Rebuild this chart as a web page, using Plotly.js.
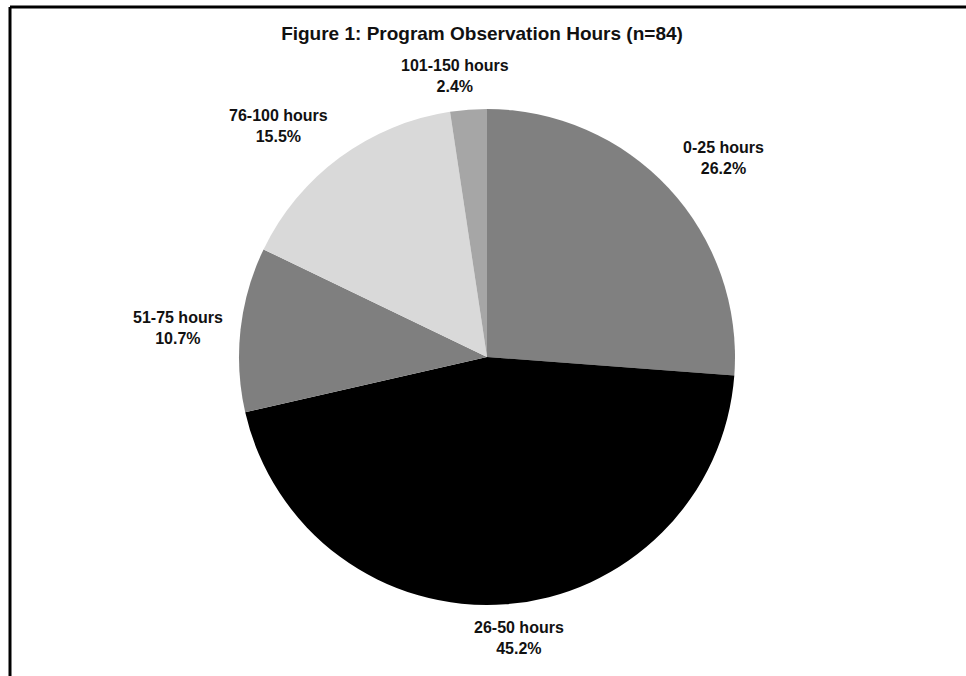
<!DOCTYPE html>
<html>
<head>
<meta charset="utf-8">
<script src="https://cdn.plot.ly/plotly-3.0.1.min.js"></script>
<style>
  html, body { margin: 0; padding: 0; background: #ffffff; }
  #chart { width: 966px; height: 676px; }
</style>
</head>
<body>
<div id="chart"></div>
<script>
const categories = ["0-25 hours", "26-50 hours", "51-75 hours", "76-100 hours", "101-150 hours"];
const counts = [22, 38, 9, 13, 2];
const sliceColors = ["#808080", "#000000", "#7f7f7f", "#d9d9d9", "#a6a6a6"];
const chartTitle = "Figure 1: Program Observation Hours (n=84)";

const W = 966, H = 676;
const cx = 487, cy = 357, r = 248;
const FONT = "Arial, 'Liberation Sans', sans-serif";

const trace = {
  type: "pie",
  labels: categories,
  values: counts,
  sort: false,
  direction: "clockwise",
  rotation: 0,
  marker: { colors: sliceColors, line: { width: 0 } },
  textinfo: "none",
  hoverinfo: "none",
  showlegend: false,
  domain: {
    x: [(cx - r) / W, (cx + r) / W],
    y: [1 - (cy + r) / H, 1 - (cy - r) / H]
  }
};

// Outside-end data labels placed at each slice's mid angle (derived from the values)
const total = counts.reduce((a, b) => a + b, 0);
const annotations = [];
let cum = 0;
counts.forEach((v, i) => {
  const frac = v / total;
  const mid = (cum + frac / 2) * 2 * Math.PI;
  cum += frac;
  const s = Math.sin(mid), c = Math.cos(mid);
  const xanchor = s > 0.3 ? "left" : (s < -0.3 ? "right" : "center");
  const yanchor = c > 0.3 ? "bottom" : (c < -0.3 ? "top" : "middle");
  const gx = 16, gy = 13;
  const px = cx + r * s + gx * s;
  const py = cy - r * c - gy * c;
  annotations.push({
    xref: "paper", yref: "paper",
    x: px / W, y: 1 - py / H,
    xanchor: xanchor, yanchor: yanchor,
    xshift: xanchor === "center" ? s * 170 : 0,
    showarrow: false,
    align: "center",
    text: categories[i] + "<br>" + (frac * 100).toFixed(1) + "%",
    font: { family: FONT, size: 16, color: "#111111", weight: "bold" }
  });
});

const layout = {
  width: W,
  height: H,
  margin: { l: 0, r: 0, t: 0, b: 0 },
  paper_bgcolor: "#ffffff",
  showlegend: false,
  title: {
    text: chartTitle,
    x: 482 / W,
    xanchor: "center",
    y: 1 - 33 / H,
    yanchor: "middle",
    font: { family: FONT, size: 19, color: "#111111", weight: "bold" }
  },
  annotations: annotations,
  shapes: [
    { type: "line", xref: "paper", yref: "paper", x0: 10 / W, x1: 10 / W, y0: 0, y1: 1 - 7 / H, line: { color: "#000000", width: 3 } },
    { type: "line", xref: "paper", yref: "paper", x0: 10 / W, x1: 1, y0: 1 - 7 / H, y1: 1 - 7 / H, line: { color: "#000000", width: 3 } }
  ]
};

Plotly.newPlot("chart", [trace], layout, { staticPlot: true, displayModeBar: false });
</script>
</body>
</html>
